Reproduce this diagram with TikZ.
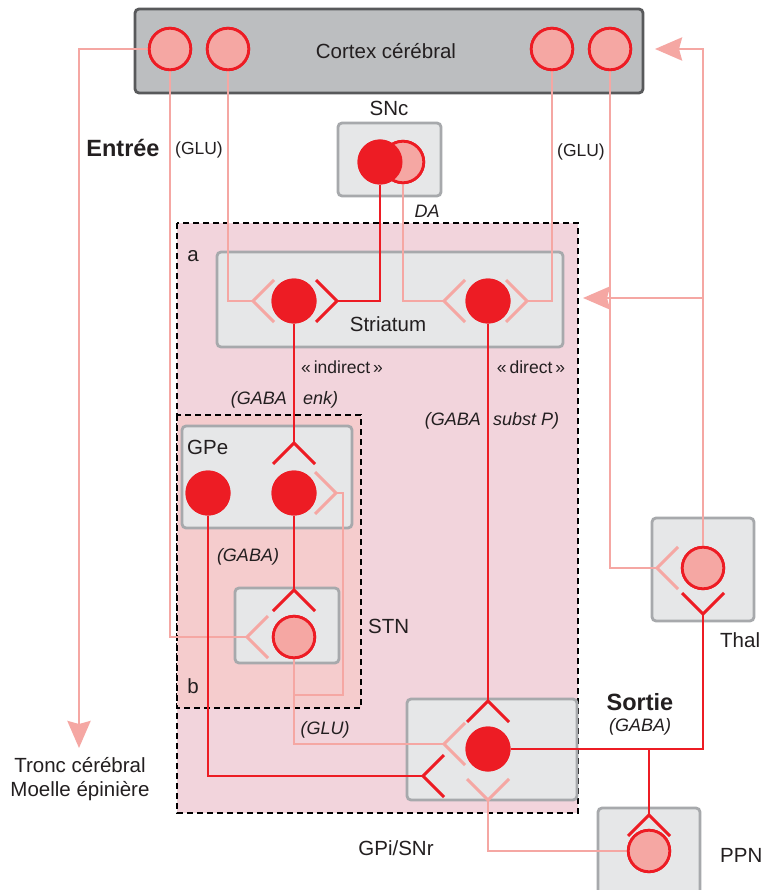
\documentclass[tikz,border=0pt]{standalone}
\usepackage{fontspec}
\setmainfont{Liberation Sans}
\usetikzlibrary{arrows.meta}
\definecolor{rd}{HTML}{ED1C24}
\definecolor{pk}{HTML}{F5A7A3}
\definecolor{boxg}{HTML}{E6E7E8}
\definecolor{boxb}{HTML}{A7A9AC}
\definecolor{ctxf}{HTML}{BCBEC0}
\definecolor{ctxb}{HTML}{58595B}
\definecolor{regA}{HTML}{F2D4DC}
\definecolor{regB}{HTML}{F5CCCD}
\definecolor{txt}{HTML}{231F20}
\newcommand{\sOpenR}[2]{\draw[#2] (#1) ++(21,-21) -- (#1) -- ++(21,21);}
\newcommand{\sOpenL}[2]{\draw[#2] (#1) ++(-21,-21) -- (#1) -- ++(-21,21);}
\newcommand{\sOpenD}[2]{\draw[#2] (#1) ++(-21,21) -- (#1) -- ++(21,21);}
\newcommand{\sOpenU}[2]{\draw[#2] (#1) ++(-21,-21) -- (#1) -- ++(21,-21);}
\begin{document}
\begin{tikzpicture}[x=1pt,y=-1pt,
  redline/.style={draw=rd,line width=2.9pt},
  pinkline/.style={draw=pk,line width=2.9pt},
  rn/.style={circle,fill=rd,minimum size=45pt,inner sep=0pt},
  pn/.style={circle,fill=pk,draw=rd,line width=2.8pt,minimum size=41.5pt,inner sep=0pt},
  graybox/.style={fill=boxg,draw=boxb,line width=2.8pt,rounded corners=4pt},
  ctxbox/.style={fill=ctxf,draw=ctxb,line width=2.8pt,rounded corners=4pt},
  region/.style={draw=black,line width=2.8pt,dash pattern=on 6pt off 4pt},
  pkarrow/.style={pinkline,-{Stealth[length=27pt,width=23pt,inset=3pt,fill=pk]}},
  lbl/.style={text=txt,inner sep=0pt,font=\fontsize{20.5}{24}\selectfont},
  sml/.style={text=txt,inner sep=0pt,font=\fontsize{17.5}{21}\selectfont},
  smi/.style={text=txt,inner sep=0pt,font=\fontsize{18}{21}\selectfont\itshape},
  bld/.style={text=txt,inner sep=0pt,font=\fontsize{23.5}{27}\selectfont\bfseries}]
\useasboundingbox (0,0) rectangle (763,890);
\fill[white] (0,0) rectangle (763,890);

% regions
\draw[region,fill=regA] (177,223) rectangle (578,813);
\draw[region,fill=regB] (177,415) rectangle (361,708);

% boxes
\draw[ctxbox] (135,9) rectangle (643,93);
\draw[graybox] (338,123) rectangle (441,196);
\draw[graybox] (217,252) rectangle (563,347);
\draw[graybox] (182,426) rectangle (352,528);
\draw[graybox] (235,588) rectangle (339,663);
\draw[graybox] (407,699) rectangle (577,800);
\draw[graybox] (652,518) rectangle (754,621);
\draw[graybox] (598,808) rectangle (700,900);

% neurons (placed for naming; redrawn on top below)
\node[pn] (c1) at (170,49) {};
\node[pn] (c2) at (228,49) {};
\node[pn] (c3) at (552,49) {};
\node[pn] (c4) at (610,49) {};
\node[pn] (snp) at (403,162) {};
\node[rn] (snr) at (380,162) {};
\node[rn] (stL) at (294,301) {};
\node[rn] (stR) at (488,301) {};
\node[rn] (gpeL) at (208,493) {};
\node[rn] (gpeR) at (294,493) {};
\node[pn] (stn) at (294,637) {};
\node[rn] (gpi) at (488,749) {};
\node[pn] (thal) at (703,568) {};
\node[pn] (ppn) at (649,851) {};

% synapse vertices and connector points
\coordinate (sA1) at (253,301);
\coordinate (sA2) at (337,301);
\coordinate (sB1) at (444,301);
\coordinate (sB2) at (527,301);
\coordinate (gpeT) at (294,443);
\coordinate (gpeRv) at (336,493);
\coordinate (gpeRc) at (343,493);
\coordinate (stnT) at (294,590);
\coordinate (stnL) at (247,637);
\coordinate (stnBr) at (294,695);
\coordinate (gpiT) at (488,701);
\coordinate (gpiP) at (444,744);
\coordinate (gpiR) at (423,776);
\coordinate (gpiB) at (488,800);
\coordinate (thL) at (657,568);
\coordinate (thB) at (703,614);
\coordinate (thBr) at (703,298);
\coordinate (ppnT) at (649,815);
\coordinate (gpiBr) at (649,749);
\coordinate (ctxArr) at (655,49);
\coordinate (strArr) at (583,298);
\coordinate (tronc) at (79,748);

% connectors
\draw[pkarrow] (c1.west) -| (tronc);
\draw[pinkline] (c1.south) |- (stnL);
\draw[pinkline] (c2.south) |- (sA1);
\draw[pinkline] (c3.south) |- (sB2);
\draw[pinkline] (c4.south) |- (thL);
\draw[pkarrow] (thal.north) |- (ctxArr);
\draw[pkarrow] (thBr) -- (strArr);
\draw[redline] (snr.south) |- (sA2);
\draw[pinkline] (snp.south) |- (sB1);
\draw[redline] (stL.south) -- (gpeT);
\draw[redline] (stR.south) -- (gpiT);
\draw[redline] (gpeL.south) |- (gpiR);
\draw[redline] (gpeR.south) -- (stnT);
\draw[pinkline] (stn.south) |- (gpiP);
\draw[pinkline] (stnBr) -| (gpeRc) -- (gpeRv);
\draw[redline] (gpi.east) -| (thB);
\draw[redline] (gpiBr) -- (ppnT);
\draw[pinkline] (ppn.west) -| (gpiB);

% synapses
\sOpenR{sA1}{pinkline}
\sOpenL{sA2}{redline}
\sOpenR{sB1}{pinkline}
\sOpenL{sB2}{pinkline}
\sOpenD{gpeT}{redline}
\sOpenL{gpeRv}{pinkline}
\sOpenD{stnT}{redline}
\sOpenR{stnL}{pinkline}
\sOpenD{gpiT}{redline}
\sOpenR{gpiP}{pinkline}
\sOpenR{gpiR}{redline}
\sOpenU{gpiB}{pinkline}
\sOpenR{thL}{pinkline}
\sOpenU{thB}{redline}
\sOpenD{ppnT}{redline}

% redraw neurons on top of lines
\node[pn] at (c1) {};
\node[pn] at (c2) {};
\node[pn] at (c3) {};
\node[pn] at (c4) {};
\node[pn] at (snp) {};
\node[rn] at (snr) {};
\node[rn] at (stL) {};
\node[rn] at (stR) {};
\node[rn] at (gpeL) {};
\node[rn] at (gpeR) {};
\node[pn] at (stn) {};
\node[rn] at (gpi) {};
\node[pn] at (thal) {};
\node[pn] at (ppn) {};

% labels
\node[lbl] (tCtx) at (386,51) {Cortex cérébral};
\node[lbl] (tSNc) at (389,108) {SNc};
\node[bld] (tIn) at (123,148) {Entrée};
\node[sml] (tGlu1) at (199,150) {(GLU)};
\node[sml] (tGlu2) at (581,152) {(GLU)};
\node[smi] (tDA) at (427,211) {DA};
\node[lbl] (ta) at (193,256) {a};
\node[lbl] (tStr) at (388,324) {Striatum};
\node[sml] (tInd) at (342,367) {«\,indirect\,»};
\node[sml] (tDir) at (531,367) {«\,direct\,»};
\node[smi,anchor=east] (tGa1) at (287,400) {(GABA};
\node[smi,anchor=west] (tEnk) at (303,400) {enk)};
\node[smi,anchor=east] (tGa2) at (481,421) {(GABA};
\node[smi,anchor=west] (tSub) at (493,421) {subst P)};
\node[lbl,anchor=west] (tGPe) at (187,447) {GPe};
\node[smi] (tGa3) at (248,557) {(GABA)};
\node[lbl,anchor=west] (tSTN) at (368,626) {STN};
\node[lbl] (tb) at (193,686) {b};
\node[smi] (tGlu3) at (325,730) {(GLU)};
\node[bld] (tOut) at (640,702) {Sortie};
\node[smi] (tGa4) at (640,727) {(GABA)};
\node[lbl,anchor=west] (tThal) at (720,640) {Thal};
\node[lbl] (tGPi) at (396,848) {GPi/SNr};
\node[lbl,anchor=west] (tPPN) at (720,855) {PPN};
\node[lbl] (tTr1) at (80,765) {Tronc cérébral};
\node[lbl] (tTr2) at (80,791) {Moelle épinière};
\end{tikzpicture}
\end{document}
